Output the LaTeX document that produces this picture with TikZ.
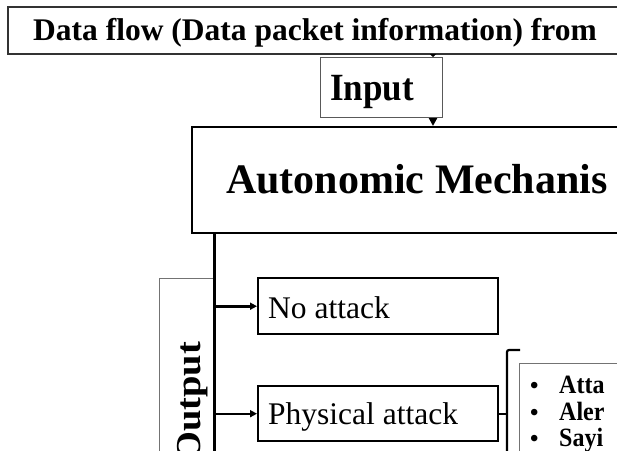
\documentclass[tikz,border=0pt]{standalone}
\usepackage{fontspec}
\setmainfont{Liberation Serif}
\usetikzlibrary{arrows.meta}

\begin{document}
\begin{tikzpicture}[x=1pt,y=-1pt,
  box/.style={draw, rectangle, inner sep=0pt, anchor=north west},
  heavybox/.style={box, line width=2.4pt, draw=black},
  lightbox/.style={box, line width=1.2pt, draw=black!65},
  thinbox/.style={box, line width=0.9pt, draw=black!55},
  label/.style={anchor=base west, inner sep=0pt},
  flowarrow/.style={line width=2.6pt, -{Triangle[length=7pt,width=7pt]}},
  trunk/.style={line width=3pt},
  bracket/.style={line width=2.2pt, rounded corners=2pt},
  bigbold/.style={font=\fontsize{31.5}{36}\selectfont\bfseries},
  midbold/.style={font=\fontsize{35}{40}\selectfont\bfseries},
  hugebold/.style={font=\fontsize{42}{48}\selectfont\bfseries},
  plain/.style={font=\fontsize{31.5}{36}\selectfont},
  itembold/.style={font=\fontsize{24}{28}\selectfont\bfseries}
]
\useasboundingbox (0,0) rectangle (617,450);
\clip (0,0) rectangle (617,450);

% source of the data flow
\node[heavybox, draw=black!80, line width=2pt, minimum width=700, minimum height=47] (flow) at (7,6) {};
\node[label, bigbold] (flowtxt) at (33,40) {Data flow (Data packet information) from};

% input stage
\node[lightbox, minimum width=122, minimum height=60] (inp) at (320,57) {};
\node[label, midbold] (inptxt) at (330,100) {\scalebox{1}[1.1]{Input}};

% autonomic mechanism
\node[heavybox, minimum width=600, minimum height=106] (auto) at (191,126) {};
\node[label, hugebold] (autotxt) at (226,193) {Autonomic Mechanis};

% feed arrows down the centre
\coordinate (ax) at (433,0);
\draw[line width=2pt, -{Triangle[length=3pt,width=6pt]}] (flow.south -| ax) -- (inp.north -| ax);
\draw[line width=2pt, -{Triangle[length=8pt,width=8pt]}] (inp.south -| ax) -- (auto.north -| ax);

% output column
\node[thinbox, minimum width=55, minimum height=220] (out) at (159,278) {};
\node[rotate=90, anchor=base, inner sep=0pt, midbold] (outtxt) at (200,402) {\scalebox{1.1}[1]{Output}};

\coordinate (vx) at (214,0);
\coordinate (vend) at (214,460);
\draw[trunk] (auto.south -| vx) -- (vend);

% outcomes
\node[heavybox, minimum width=240, minimum height=56] (noatt) at (257,277) {};
\node[label, plain] (noatttxt) at (268,318) {No attack};
\node[heavybox, minimum width=240, minimum height=55] (phys) at (257,385) {};
\node[label, plain] (phystxt) at (268,424) {Physical attack};

\draw[flowarrow] (noatt.west -| vx) -- (noatt.west);
\draw[flowarrow, line width=2pt] (phys.west -| vx) -- (phys.west);

% brace grouping the responses
\coordinate (brtop) at (520,350);
\coordinate (brbot) at (507,470);
\draw[bracket] (brbot) |- (brtop);
\draw[line width=2.2pt] (phys.east) -- (phys.east -| brbot);

% response list
\node[thinbox, minimum width=200, minimum height=150] (resp) at (519,363) {};
\node[label, itembold] (b1) at (530,393) {•};
\node[label, itembold] (i1) at (559,393) {\scalebox{1}[1.1]{Atta}};
\node[label, itembold] (b2) at (530,420) {•};
\node[label, itembold] (i2) at (559,420) {\scalebox{1}[1.1]{Aler}};
\node[label, itembold] (b3) at (530,446) {•};
\node[label, itembold] (i3) at (559,446) {\scalebox{1}[1.1]{Sayi}};
\end{tikzpicture}
\end{document}
